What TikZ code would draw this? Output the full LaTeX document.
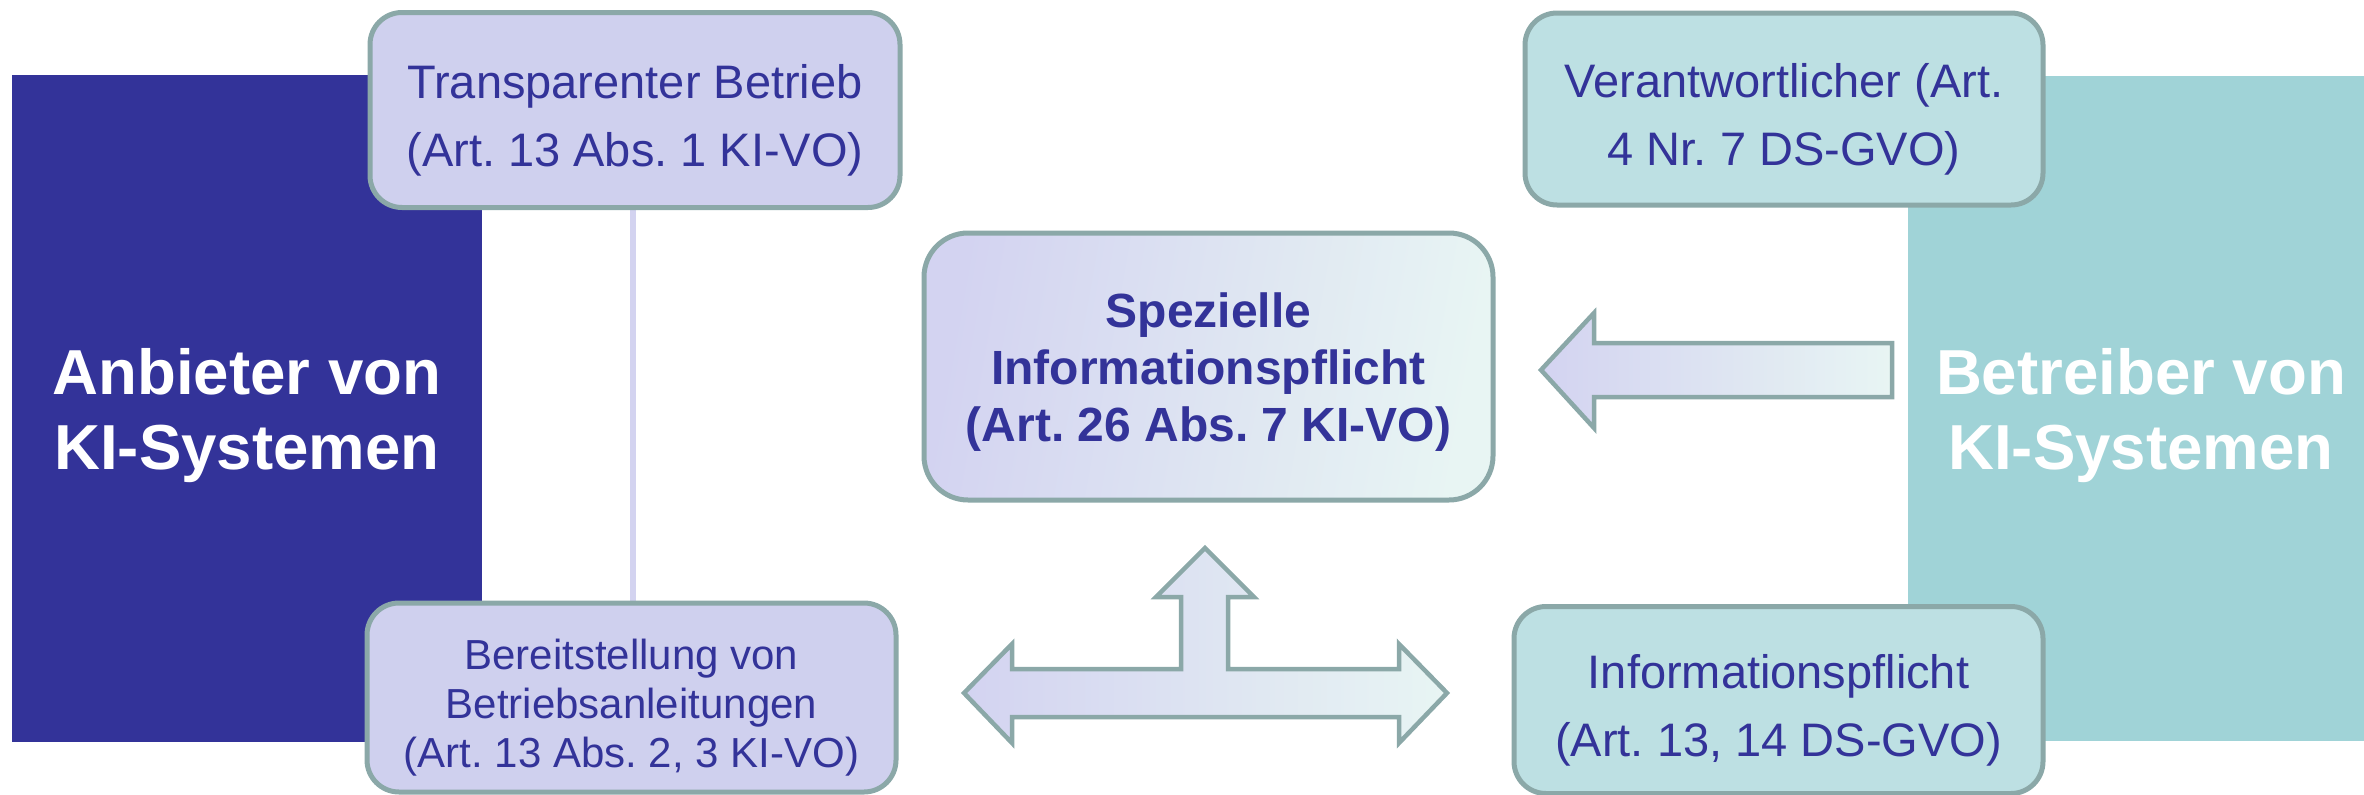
\documentclass[tikz,border=0pt]{standalone}
\usepackage{fontspec}
\setmainfont{Liberation Sans}
\frenchspacing
\definecolor{navy}{HTML}{333399}
\definecolor{tealbg}{HTML}{A0D3D7}
\definecolor{lavbox}{HTML}{CFD0EE}
\definecolor{tealbox}{HTML}{BDE0E3}
\definecolor{bordercol}{HTML}{8BA8A8}
\definecolor{linecol}{HTML}{D3D3F0}
\definecolor{gradL}{HTML}{D3D3F1}
\definecolor{gradR}{HTML}{E8F5F3}
\tikzset{
  infobox/.style={draw=bordercol, line width=5pt, rounded corners=32pt, inner sep=0pt},
  boxtxt/.style={align=center, inner sep=0pt, text=navy},
  bigtxt/.style={align=center, inner sep=0pt, text=white,
    font=\fontsize{63.6}{75}\selectfont\bfseries},
  blockarrow/.style={draw=bordercol, line width=4.5pt, line join=miter,
    left color=gradL, right color=gradR},
}
\begin{document}
\begin{tikzpicture}[x=1pt,y=-1pt]
\useasboundingbox (0,0) rectangle (2364,795);
% side panels
\fill[navy] (12,75) rectangle (482,742);
\fill[tealbg] (1908,76) rectangle (2364,741);
\node[bigtxt] (anb) at (247,416) {Anbieter von\\KI-Systemen};
\node[bigtxt] (betr) at (2141,416) {Betreiber von\\KI-Systemen};
% connecting line
\draw[linecol, line width=6pt] (633,209.5) coordinate (ltop) -- (633,600.5) coordinate (lbot);
% boxes
\node[infobox, fill=lavbox, minimum width=530pt, minimum height=195pt] (trans) at (635,110) {};
\node[boxtxt, font=\fontsize{47}{68}\selectfont, yshift=-10pt] (transtxt) at (trans.center)
  {Transparenter Betrieb\\(Art. 13 Abs. 1 KI-VO)};
\node[infobox, fill=lavbox, minimum width=529pt, minimum height=189pt] (bereit) at (631.5,697.5) {};
\node[boxtxt, font=\fontsize{42}{49}\selectfont, yshift=-10pt] (bereittxt) at (bereit.center)
  {Bereitstellung von\\Betriebsanleitungen\\(Art. 13 Abs. 2, 3 KI-VO)};
\node[infobox, fill=tealbox, minimum width=518pt, minimum height=192pt] (verant) at (1784,109) {};
\node[boxtxt, font=\fontsize{47}{68}\selectfont, yshift=-10pt] (veranttxt) at (verant.center)
  {Verantwortlicher (Art.\\4 Nr. 7 DS-GVO)};
\node[infobox, fill=tealbox, minimum width=529pt, minimum height=187pt] (infop) at (1778.5,700) {};
\node[boxtxt, font=\fontsize{47}{68}\selectfont, yshift=-10pt] (infoptxt) at (infop.center)
  {Informationspflicht\\(Art. 13, 14 DS-GVO)};
\node[infobox, rounded corners=44pt, left color=gradL, right color=gradR, shading angle=80,
  minimum width=569pt, minimum height=267pt] (spez) at (1208.5,366.5) {};
\node[boxtxt, font=\fontsize{48}{57}\selectfont\bfseries, yshift=-6pt] (speztxt) at (spez.center)
  {Spezielle\\Informationspflicht\\(Art. 26 Abs. 7 KI-VO)};
% block arrows
\draw[blockarrow] (1541,370) -- (1594,313) -- (1594,343) -- (1892,343) -- (1892,397)
  -- (1594,397) -- (1594,428) -- cycle;
\draw[blockarrow] (964,693) -- (1012,644) -- (1012,669) -- (1181,669) -- (1181,597)
  -- (1156,597) -- (1205,548) -- (1254,597) -- (1228,597) -- (1228,669) -- (1399,669)
  -- (1399,644) -- (1447,693) -- (1399,743) -- (1399,717) -- (1012,717) -- (1012,743) -- cycle;
\end{tikzpicture}
\end{document}
